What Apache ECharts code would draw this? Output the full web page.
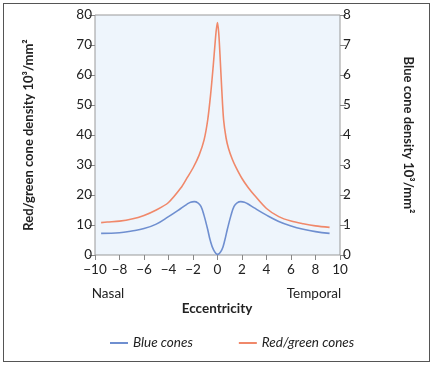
<!DOCTYPE html>
<html><head><meta charset="utf-8">
<script src="https://cdn.jsdelivr.net/npm/echarts@6/dist/echarts.min.js"></script>
<style>html,body{margin:0;padding:0;background:#fff}#c{width:433px;height:365px;position:relative}
#frame{position:absolute;left:3px;top:3px;width:425px;height:357px;border:1px solid #555;pointer-events:none}</style>
</head><body><div id="c"></div><div id="frame"></div>
<script>
// Eccentricity (x) and densities
const redX = [-9.5,-9,-8,-7,-6,-5,-4,-3,-2.5,-2,-1.5,-1.1,-0.8,-0.55,-0.35,-0.2,-0.1,0,0.1,0.2,0.35,0.5,0.7,0.9,1.2,1.5,2,2.5,3,4,5,6,7,8,9.15];
const redVals = [10.8,11.0,11.3,12.0,13.2,15.0,17.5,22.3,25.6,29.0,33.3,38.3,45,54,63,70.5,75,77.5,74,67,55,45,39,35.5,32,29.3,25.5,22.5,20.0,15.5,12.8,11.3,10.4,9.7,9.2];
const blueX = [-9.5,-8,-7,-6,-5,-4,-3,-2.5,-2.2,-1.9,-1.6,-1.35,-1.1,-0.8,-0.6,-0.32,0,0.35,0.6,0.8,1.1,1.35,1.6,1.9,2.2,2.5,3,4,5,6,7,8,9.15];
const blueVals = [0.72,0.74,0.80,0.88,1.03,1.28,1.55,1.69,1.76,1.78,1.74,1.62,1.32,0.85,0.50,0.17,0.02,0.17,0.50,0.85,1.32,1.62,1.74,1.78,1.76,1.70,1.57,1.33,1.12,0.97,0.86,0.78,0.72];
const leftTicks = [0,80,10];
const rightTicks = [0,8,1];
const xTicks = [-10,10,2];

const FONT = 'Lato';
const chart = echarts.init(document.getElementById('c'));
const lbl = {color:'#222', fontSize:13.5, fontFamily:FONT};
const note = (text,x,y,bold)=>({text,left:x,top:y,textAlign:'center',padding:0,
  textStyle:{color:'#222',fontSize:13.5,fontFamily:FONT,fontWeight:bold?'bold':'normal'}});
chart.setOption({
  animation:false,
  title:[note('Nasal',108,287,false),note('Temporal',314,287,false),note('Eccentricity',217,302,true)],
  grid:{left:95,right:93,top:15,bottom:110,show:true,backgroundColor:'#eef5fc',borderColor:'#999',borderWidth:1},
  xAxis:{type:'value',min:xTicks[0],max:xTicks[1],interval:xTicks[2],
    axisLine:{show:false,onZero:false},axisTick:{length:5,lineStyle:{color:'#888'}},splitLine:{show:false},
    axisLabel:Object.assign({margin:8,formatter:v=>v<0?'\u2212'+(-v):String(v)},lbl)},
  yAxis:[
    {type:'value',min:leftTicks[0],max:leftTicks[1],interval:leftTicks[2],position:'left',
     name:'Red/green cone density 10\u00b3/mm\u00b2',nameLocation:'middle',nameGap:60,
     nameTextStyle:{color:'#222',fontSize:13,fontWeight:'bold',fontFamily:FONT},
     axisLine:{show:false,onZero:false},axisTick:{show:true,length:6,lineStyle:{color:'#888'}},splitLine:{show:false},
     axisLabel:Object.assign({margin:3},lbl)},
    {type:'value',min:rightTicks[0],max:rightTicks[1],interval:rightTicks[2],position:'right',
     name:'Blue cone density 10\u00b3/mm\u00b2',nameLocation:'middle',nameGap:62,nameRotate:-90,
     nameTextStyle:{color:'#222',fontSize:13,fontWeight:'bold',fontFamily:FONT},
     axisLine:{show:false,onZero:false},axisTick:{show:true,length:6,lineStyle:{color:'#888'}},splitLine:{show:false},
     axisLabel:Object.assign({margin:3},lbl)}
  ],
  legend:{left:105,top:331,itemWidth:18,itemHeight:2,itemGap:46,icon:'rect',
    textStyle:{color:'#222',fontSize:13.5,fontStyle:'italic',fontFamily:FONT},
    data:['Blue cones','Red/green cones']},
  series:[
    {name:'Blue cones',type:'line',yAxisIndex:1,showSymbol:false,smooth:0.4,
     color:'#6f8fd0',lineStyle:{width:1.6,color:'#6f8fd0'},
     data:blueX.map((x,i)=>[x,blueVals[i]])},
    {name:'Red/green cones',type:'line',yAxisIndex:0,showSymbol:false,smooth:0.3,
     color:'#f0886a',lineStyle:{width:1.6,color:'#f0886a'},
     data:redX.map((x,i)=>[x,redVals[i]])}
  ]
});
</script></body></html>
